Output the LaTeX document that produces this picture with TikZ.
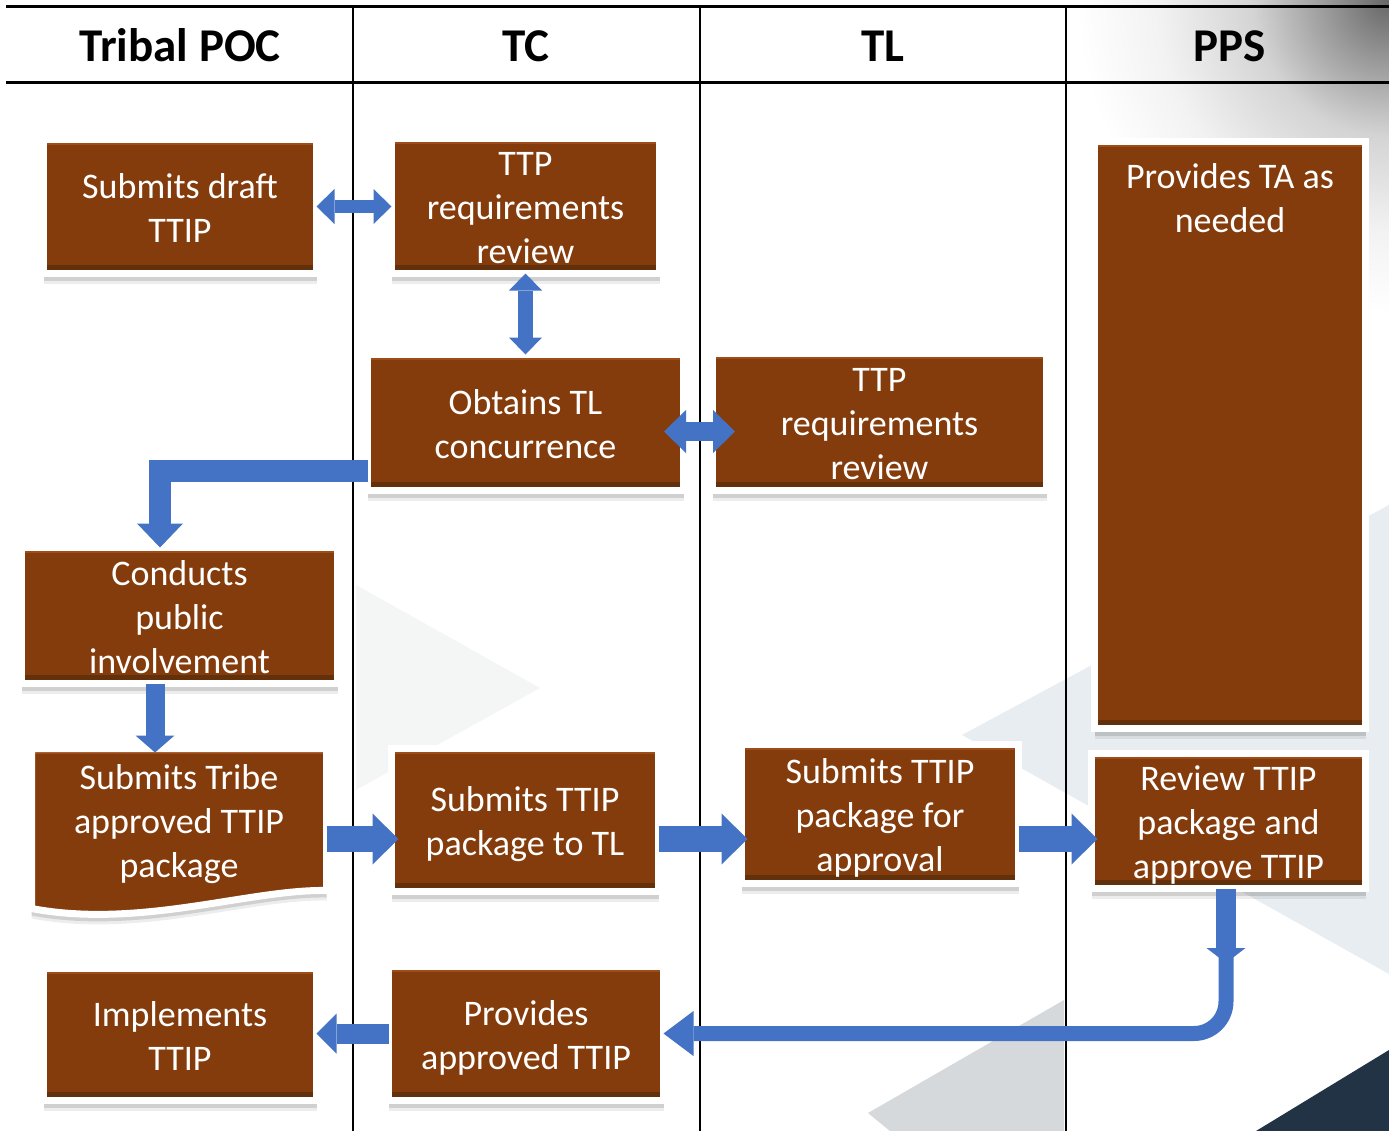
\documentclass[tikz,border=0pt]{standalone}
\usepackage{fontspec}
\setmainfont{Carlito}
\usetikzlibrary{arrows.meta,shadows,calc}
\definecolor{boxbrown}{HTML}{843C0C}
\definecolor{boxdark}{HTML}{62300A}
\definecolor{boxlight}{HTML}{9E4C18}
\definecolor{flowblue}{HTML}{4472C4}
\definecolor{paleblue}{HTML}{E8EDF2}
\definecolor{palegrey}{HTML}{F4F6F6}
\definecolor{midgrey}{HTML}{D6D9DC}
\definecolor{navyband}{HTML}{233346}
\pgfdeclareradialshading{cornerglow}{\pgfpointorigin}{color(0bp)=(black!60); color(5bp)=(black!38); color(10bp)=(black!17); color(17bp)=(black!5); color(23bp)=(white); color(50bp)=(white)}
\newcommand\ls{\rule[-4.25pt]{0pt}{22pt}}
\tikzset{
  boxlook/.style={draw=white, line width=3.5pt, fill=boxbrown,
    drop shadow={shadow xshift=0pt, shadow yshift=-5pt, opacity=0.07, fill=black},
    drop shadow={shadow xshift=0pt, shadow yshift=-3.5pt, opacity=0.12, fill=black},
    path picture={
      \fill[boxdark] ([yshift=1.75pt]path picture bounding box.south west) rectangle ([yshift=4.25pt]path picture bounding box.south east);
      \fill[boxlight] ([yshift=-1.75pt]path picture bounding box.north west) rectangle ([yshift=-2.75pt]path picture bounding box.north east);
    }},
  stepbox/.style={boxlook, text=white, align=center, inner sep=0pt, outer sep=0pt,
    font=\fontsize{18}{22}\selectfont},
  steptext/.style={text=white, align=center, inner sep=0pt, outer sep=0pt,
    font=\fontsize{18}{22}\selectfont},
  ghost/.style={inner sep=0pt, outer sep=0pt},
  header/.style={anchor=base, inner sep=0pt, font=\fontsize{23.5}{27}\selectfont\bfseries},
  lane/.style={draw=black, line width=1pt},
  flow/.style={draw=flowblue, line join=miter},
}
\begin{document}
\begin{tikzpicture}[x=0.5pt, y=-0.5pt]
\useasboundingbox (0,0) rectangle (1389,1131);
\fill[white] (0,0) rectangle (1389,1131);
% background decoration
\begin{scope}
  \clip (0,0) rectangle (1389,1131);
  \fill[palegrey] (356,585) -- (540,688) -- (356,790) -- cycle;
  \fill[paleblue] (962,735) -- (1389,505) -- (1389,974) -- cycle;
  \fill[midgrey] (868,1113) -- (1064,1000) -- (1064,1131) -- (890,1131) -- cycle;
  \fill[navyband] (1256,1131) -- (1389,1050) -- (1389,1131) -- cycle;
  \shade[shading=cornerglow] (1389,0) circle (340);
\end{scope}
% lanes
\draw[lane, line width=1.5pt] (6,6) -- (1389,6);
\draw[lane, line width=1.5pt] (6,82) -- (1389,82);
\draw[lane] (353,6) -- (353,1131);
\draw[lane] (700,6) -- (700,1131);
\draw[lane] (1066,6) -- (1066,1131);
\node[header] (hpoc) at (180,61) {Tribal POC};
\node[header] (htc) at (526,61) {TC};
\node[header] (htl) at (883,61) {TL};
\node[header] (hpps) at (1230,61) {PPS};
% boxes
\node[stepbox, minimum width=136.5pt, minimum height=67pt] (b1) at (180,206.5) {\ls Submits draft\\\ls TTIP};
\node[stepbox, minimum width=134pt, minimum height=67.5pt] (b2) at (525.5,206) {\ls TTP\\\ls requirements\\\ls review};
\node[stepbox, minimum width=158pt, minimum height=68pt] (b3) at (525.5,422.5) {\ls Obtains TL\\\ls concurrence};
\node[stepbox, minimum width=167pt, minimum height=68.5pt] (b4) at (879.5,422) {\ls TTP\\\ls requirements\\\ls review};
\node[stepbox, minimum width=135.5pt, minimum height=293.5pt] (b5) at (1230,435) {};
\node[steptext, anchor=north] (b5t) at (1230,152.5) {\ls Provides TA as\\\ls needed};
\node[stepbox, minimum width=158pt, minimum height=68pt] (b6) at (179.5,615.5) {\ls Conducts\\\ls public\\\ls involvement};
\path[boxlook] (31.5,748.5) -- (326.5,748.5) -- (326.5,890.5) .. controls (250,889) and (140,929) .. (31.5,908.5) -- cycle;
\node[ghost, minimum width=147.5pt, minimum height=77.5pt] (b7) at (179,826) {};
\node[steptext, anchor=north] (b7t) at (179,753.5) {\ls Submits Tribe\\\ls approved TTIP\\\ls package};
\node[stepbox, minimum width=133.5pt, minimum height=71.5pt] (b8) at (525,820) {\ls Submits TTIP\\\ls package to TL};
\node[stepbox, minimum width=138.5pt, minimum height=69.5pt] (b9) at (880,814) {\ls Submits TTIP\\\ls package for\\\ls approval};
\node[stepbox, minimum width=137pt, minimum height=67.5pt] (b10) at (1228.5,821) {\ls Review TTIP\\\ls package and\\\ls approve TTIP};
\node[stepbox, minimum width=136.5pt, minimum height=66pt] (b11) at (180,1034.5) {\ls Implements\\\ls TTIP};
\node[stepbox, minimum width=137.5pt, minimum height=67pt] (b12) at (526,1033.5) {\ls Provides\\\ls approved TTIP};
% helper coordinates
\coordinate (row) at (0,839);
\coordinate (c1) at (1226,963);
% connectors
\draw[flow, line width=6.5pt, {Triangle[width=17.5pt,length=9pt,line width=0pt]}-{Triangle[width=17.5pt,length=9pt,line width=0pt]}] (b1.east) -- (b1.east -| b2.west);
\draw[flow, line width=7.5pt, {Triangle[width=16.5pt,length=8.5pt,line width=0pt]}-{Triangle[width=16.5pt,length=8.5pt,line width=0pt]}] (b2.south) -- (b2.south |- b3.north);
\draw[flow, line width=9.5pt, shorten <=-9.75pt, shorten >=-11.25pt, {Triangle[width=21.5pt,length=11pt,line width=0pt]}-{Triangle[width=21.5pt,length=11pt,line width=0pt]}] ([yshift=-4.5pt]b3.east) -- ([yshift=-4.5pt]b3.east -| b4.west);
\draw[flow, line width=11pt, -{Triangle[width=23pt,length=12pt,line width=0pt]}] ([yshift=-24.25pt]b3.west) -| ([xshift=-9.75pt]b6.north);
\draw[flow, line width=9.5pt, shorten >=-2pt, -{Triangle[width=19.5pt,length=8.5pt,line width=0pt]}] ([xshift=-12.25pt]b6.south) -- ([xshift=-12.25pt]b6.south |- b7.north);
\draw[flow, line width=13pt, shorten >=-3.5pt, -{Triangle[width=25.5pt,length=13pt,line width=0pt]}] (b7.east |- row) -- (b8.west |- row);
\draw[flow, line width=13pt, shorten >=-3pt, -{Triangle[width=25.5pt,length=13pt,line width=0pt]}] (b8.east |- row) -- (b9.west |- row);
\draw[flow, line width=13pt, shorten >=-3pt, -{Triangle[width=25.5pt,length=13pt,line width=0pt]}] (b9.east |- row) -- (b10.west |- row);
\draw[flow, line width=10pt, -{Triangle[width=19.5pt,length=7.5pt,line width=0pt]}] (b10.south -| c1) -- (c1);
\draw[flow, line width=7.5pt, rounded corners=16pt, -{Triangle[width=22.5pt,length=15pt,line width=0pt]}] ([yshift=4pt]c1) |- (b12.east);
\draw[flow, line width=10pt, -{Triangle[width=20pt,length=10pt,line width=0pt]}] (b12.west) -- (b12.west -| b11.east);
\end{tikzpicture}
\end{document}
